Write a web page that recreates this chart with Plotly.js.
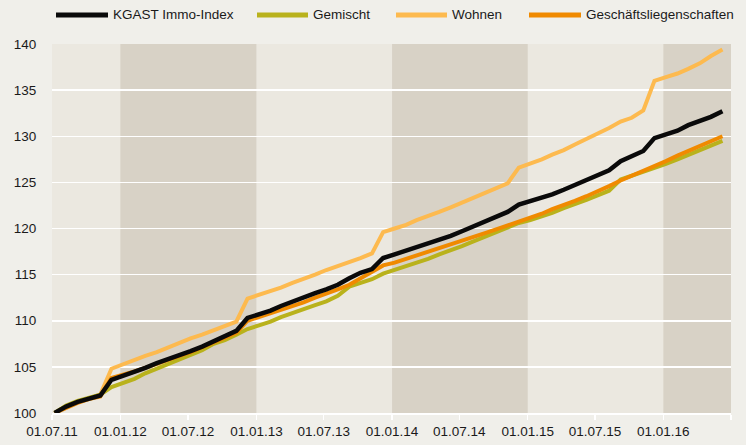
<!DOCTYPE html>
<html>
<head>
<meta charset="utf-8">
<script src="https://cdn.plot.ly/plotly-3.0.1.min.js"></script>
<style>
html,body{margin:0;padding:0;background:#f0efea;}
#chart{width:746px;height:445px;}
</style>
</head>
<body>
<div id="chart"></div>
<script>
// Monthly observations, July 2011 - June 2016
const months = [
'2011-07-08','2011-08-08','2011-09-08','2011-10-08','2011-11-08','2011-12-08',
'2012-01-08','2012-02-08','2012-03-08','2012-04-08','2012-05-08','2012-06-08',
'2012-07-08','2012-08-08','2012-09-08','2012-10-08','2012-11-08','2012-12-08',
'2013-01-08','2013-02-08','2013-03-08','2013-04-08','2013-05-08','2013-06-08',
'2013-07-08','2013-08-08','2013-09-08','2013-10-08','2013-11-08','2013-12-08',
'2014-01-08','2014-02-08','2014-03-08','2014-04-08','2014-05-08','2014-06-08',
'2014-07-08','2014-08-08','2014-09-08','2014-10-08','2014-11-08','2014-12-08',
'2015-01-08','2015-02-08','2015-03-08','2015-04-08','2015-05-08','2015-06-08',
'2015-07-08','2015-08-08','2015-09-08','2015-10-08','2015-11-08','2015-12-08',
'2016-01-08','2016-02-08','2016-03-08','2016-04-08','2016-05-08','2016-06-08'
];

const kgast = [
100.0, 100.7, 101.2, 101.6, 101.9, 103.6,
104.0, 104.5, 104.9, 105.4, 105.8, 106.3, 106.7, 107.2, 107.8, 108.3, 108.9, 110.3,
110.7, 111.1, 111.6, 112.1, 112.5, 113.0, 113.4, 113.9, 114.6, 115.2, 115.6, 116.8,
117.2, 117.6, 118.0, 118.4, 118.8, 119.2, 119.7, 120.2, 120.8, 121.3, 121.8, 122.6,
123.0, 123.3, 123.7, 124.2, 124.7, 125.2, 125.8, 126.3, 127.3, 127.8, 128.4, 129.8,
130.2, 130.6, 131.2, 131.6, 132.1, 132.7
];

const gemischt = [
100.0, 100.8, 101.3, 101.7, 102.0, 102.8,
103.2, 103.7, 104.3, 104.8, 105.3, 105.8, 106.3, 106.8, 107.5, 107.9, 108.5, 109.1,
109.5, 109.9, 110.4, 110.8, 111.2, 111.7, 112.1, 112.7, 113.7, 114.1, 114.5, 115.1,
115.5, 115.9, 116.3, 116.7, 117.2, 117.6, 118.1, 118.6, 119.1, 119.5, 120.0, 120.6,
120.9, 121.3, 121.7, 122.2, 122.6, 123.1, 123.6, 124.1, 125.3, 125.7, 126.1, 126.6,
127.0, 127.5, 128.0, 128.5, 129.0, 129.5
];

const wohnen = [
100.0, 100.7, 101.2, 101.6, 102.0, 104.8,
105.3, 105.7, 106.2, 106.6, 107.1, 107.6, 108.1, 108.5, 109.0, 109.4, 109.9, 112.4,
112.8, 113.2, 113.6, 114.1, 114.5, 115.0, 115.5, 115.9, 116.4, 116.8, 117.3, 119.6,
120.0, 120.4, 120.9, 121.3, 121.8, 122.3, 122.8, 123.3, 123.8, 124.4, 124.9, 126.6,
127.0, 127.5, 128.0, 128.5, 129.1, 129.7, 130.2, 130.9, 131.6, 132.0, 132.8, 136.0,
136.4, 136.8, 137.3, 137.9, 138.7, 139.4
];

const geschaeft = [
100.0, 100.6, 101.1, 101.5, 101.8, 103.8,
104.1, 104.5, 104.9, 105.3, 105.7, 106.2, 106.6, 107.1, 107.6, 108.1, 108.7, 110.0,
110.4, 110.8, 111.2, 111.6, 112.0, 112.5, 112.9, 113.4, 113.9, 114.6, 115.2, 116.0,
116.3, 116.7, 117.1, 117.5, 117.8, 118.2, 118.7, 119.1, 119.5, 119.9, 120.3, 120.8,
121.1, 121.6, 122.1, 122.5, 123.0, 123.5, 124.0, 124.6, 125.2, 125.7, 126.3, 126.8,
127.3, 127.9, 128.4, 129.0, 129.5, 130.0
];

const seriesNames = ['KGAST Immo-Index', 'Gemischt', 'Wohnen', 'Geschäftsliegenschaften'];

const tickDates = ['2011-07-01','2012-01-01','2012-07-01','2013-01-01','2013-07-01','2014-01-01',
                   '2014-07-01','2015-01-01','2015-07-01','2016-01-01','2016-07-01'];
const tickLabels = ['01.07.11','01.01.12','01.07.12','01.01.13','01.07.13','01.01.14',
                    '01.07.14','01.01.15','01.07.15','01.01.16',''];

const shadedYears = [['2012-01-01','2013-01-01'],['2014-01-01','2015-01-01'],['2016-01-01','2016-07-01']];

const colors = {
  kgast: '#0a0a0a',
  gemischt: '#b9b21c',
  wohnen: '#fdba4f',
  geschaeft: '#f08a00'
};

const FONT = 'Liberation Sans, Arial, sans-serif';

function line(y, name, color, width) {
  return {
    type: 'scatter', mode: 'lines', x: months, y: y, name: name,
    line: {color: color, width: width, shape: 'linear'},
    showlegend: false, hoverinfo: 'x+y+name'
  };
}

const traces = [
  line(wohnen, seriesNames[2], colors.wohnen, 4),
  line(gemischt, seriesNames[1], colors.gemischt, 4),
  line(geschaeft, seriesNames[3], colors.geschaeft, 4),
  line(kgast, seriesNames[0], colors.kgast, 4.5)
];

// geometry of plot area in pixels
const W = 746, H = 445;
const mL = 52, mR = 15, mT = 44, mB = 32;
const pw = W - mL - mR, ph = H - mT - mB;
const px = x => (x - mL) / pw;
const py = y => (H - mB - y) / ph;

const shapes = shadedYears.map(r => ({
  type: 'rect', xref: 'x', yref: 'paper', x0: r[0], x1: r[1], y0: 0, y1: 1,
  fillcolor: '#d8d2c6', line: {width: 0}, layer: 'below'
}));

// custom legend
const legendItems = [
  {name: seriesNames[0], color: colors.kgast, x0: 56, x1: 108, tx: 112},
  {name: seriesNames[1], color: colors.gemischt, x0: 257, x1: 308, tx: 312},
  {name: seriesNames[2], color: colors.wohnen, x0: 396, x1: 447, tx: 451},
  {name: seriesNames[3], color: colors.geschaeft, x0: 529, x1: 581, tx: 585}
];
const legendY = 15;
const annotations = [];
legendItems.forEach(it => {
  shapes.push({type: 'line', xref: 'paper', yref: 'paper',
    x0: px(it.x0), x1: px(it.x1), y0: py(legendY), y1: py(legendY),
    line: {color: it.color, width: 5}});
  annotations.push({xref: 'paper', yref: 'paper', x: px(it.tx), y: py(legendY),
    xanchor: 'left', yanchor: 'middle', showarrow: false, text: it.name,
    borderpad: 0, font: {family: FONT, size: 13.5, color: '#1a1a1a'}});
});

const layout = {
  width: W, height: H,
  margin: {l: mL, r: mR, t: mT, b: mB},
  paper_bgcolor: '#f0efea',
  plot_bgcolor: '#ebe8e0',
  font: {family: FONT, size: 13.5, color: '#1a1a1a'},
  showlegend: false,
  xaxis: {
    type: 'date',
    range: ['2011-07-01', '2016-07-01'],
    tickmode: 'array', tickvals: tickDates, ticktext: tickLabels,
    ticks: 'outside', ticklen: 5, tickwidth: 1.5, tickcolor: '#ffffff',
    showgrid: false, zeroline: false,
    showline: true, linecolor: '#ffffff', linewidth: 2,
    tickfont: {family: FONT, size: 13.5, color: '#1a1a1a'},
    fixedrange: true
  },
  yaxis: {
    range: [100, 140], dtick: 5, tick0: 100,
    ticks: 'outside', ticklen: 12, tickcolor: 'rgba(0,0,0,0)',
    showgrid: true, gridcolor: '#ffffff', gridwidth: 1.5,
    zeroline: false, showline: false,
    tickfont: {family: FONT, size: 13.5, color: '#1a1a1a'},
    fixedrange: true
  },
  shapes: shapes,
  annotations: annotations
};

Plotly.newPlot('chart', traces, layout, {displayModeBar: false, staticPlot: true});
</script>
</body>
</html>
